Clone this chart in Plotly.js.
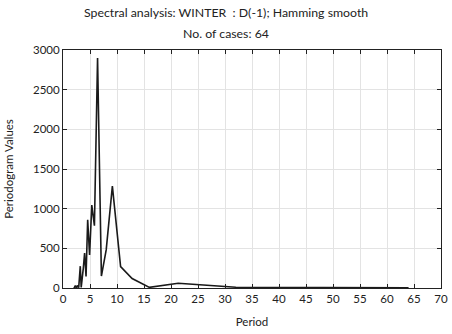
<!DOCTYPE html>
<html>
<head>
<meta charset="utf-8">
<script src="https://cdn.plot.ly/plotly-3.0.1.min.js"></script>
<style>html,body{margin:0;padding:0;background:#fff;}#chart{width:452px;height:334px;}</style>
</head>
<body>
<div id="chart"></div>
<script>
// Period = 64 / k, k = 1..32
const periods = [64, 32, 21.333, 16, 12.8, 10.667, 9.143, 8, 7.111, 6.4, 5.818, 5.333, 4.923, 4.571, 4.267, 4, 3.765, 3.556, 3.368, 3.2, 3.048, 2.909, 2.783, 2.667, 2.56, 2.462, 2.370, 2.286, 2.207, 2.133, 2.065, 2.0];
const periodogram = [2, 10, 60, 8, 120, 270, 1285, 480, 150, 2900, 785, 1045, 415, 860, 145, 440, 250, 100, 8, 275, 10, 5, 20, 30, 10, 5, 15, 30, 20, 10, 5, 0];
const xTicks = [0, 5, 10, 15, 20, 25, 30, 35, 40, 45, 50, 55, 60, 65, 70];
const yTicks = [0, 500, 1000, 1500, 2000, 2500, 3000];
const titleLines = ["Spectral analysis: WINTER  : D(-1); Hamming smooth", "No. of cases: 64"];

const fam = "Lato, Open Sans, sans-serif";
const font = {family: fam, size: 11.5, color: "#222"};
const titleFont = {family: fam, size: 12.3, color: "#222"};

Plotly.newPlot("chart", [{
  x: periods, y: periodogram, type: "scatter", mode: "lines",
  line: {color: "#1a1a1a", width: 1.6}, hoverinfo: "skip"
}], {
  width: 452, height: 334,
  margin: {l: 63, r: 11, t: 50, b: 46},
  paper_bgcolor: "#fff", plot_bgcolor: "#fff",
  font: font,
  showlegend: false,
  annotations: [
    {text: titleLines[0], xref: "paper", yref: "paper", x: 0.4325, y: 1.1555, xanchor: "center", yanchor: "middle", showarrow: false, font: titleFont},
    {text: titleLines[1], xref: "paper", yref: "paper", x: 0.4325, y: 1.0714, xanchor: "center", yanchor: "middle", showarrow: false, font: titleFont}
  ],
  xaxis: {range: [0, 70], tickvals: xTicks, ticktext: xTicks.map(String),
          showgrid: true, gridcolor: "#e3e3e3", gridwidth: 1,
          showline: true, linecolor: "#222", linewidth: 1, mirror: "ticks",
          ticks: "inside", ticklen: 4, tickcolor: "#222", zeroline: false,
          tickfont: font,
          title: {text: "Period", standoff: 14, font: font}},
  yaxis: {range: [0, 3000], tickvals: yTicks, ticktext: yTicks.map(String),
          showgrid: true, gridcolor: "#e3e3e3", gridwidth: 1,
          showline: true, linecolor: "#222", linewidth: 1, mirror: "ticks",
          ticks: "inside", ticklen: 4, tickcolor: "#222", zeroline: false,
          tickfont: font,
          title: {text: "Periodogram Values", standoff: 16, font: font}}
}, {displayModeBar: false, staticPlot: true});
</script>
</body>
</html>
